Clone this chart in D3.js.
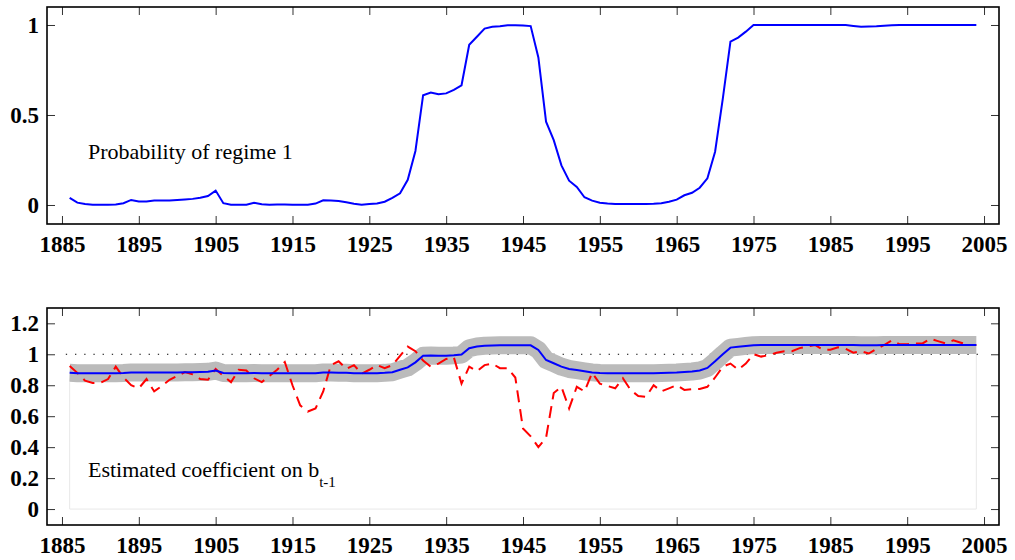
<!DOCTYPE html>
<html>
<head>
<meta charset="utf-8">
<script src="https://cdn.jsdelivr.net/npm/d3@7"></script>
<style>
  body { margin: 0; background: #fff; }
  svg { display: block; }
  .tick text { font-family: "Liberation Serif", "Times New Roman", serif; font-weight: bold; font-size: 23px; fill: #000; }
  .tick line { stroke: #333; stroke-width: 1; }
  .note { font-family: "Liberation Serif", "Times New Roman", serif; font-size: 22px; fill: #000; }
</style>
</head>
<body>
<div id="chart"></div>
<script>

// years of the sample
var years = d3.range(1886, 2005);

// top panel: smoothed probability of regime 1
var probRegime1 = [
  0.04, 0.013, 0.005, 0.002, 0.001, 0.001, 0.003, 0.01, 0.028, 0.02,
  0.02, 0.025, 0.025, 0.025, 0.028, 0.031, 0.034, 0.04, 0.05, 0.08,
  0.01, 0.001, 0.001, 0.001, 0.012, 0.004, 0.001, 0.003, 0.003, 0.001,
  0.001, 0.001, 0.008, 0.026, 0.025, 0.022, 0.015, 0.007, 0.002, 0.005,
  0.008, 0.018, 0.04, 0.065, 0.14, 0.3, 0.61, 0.625, 0.615, 0.62,
  0.64, 0.665, 0.89, 0.935, 0.98, 0.99, 0.993, 0.998, 0.998, 0.997,
  0.994, 0.82, 0.463, 0.36, 0.22, 0.135, 0.1, 0.043, 0.024, 0.013,
  0.008, 0.006, 0.005, 0.005, 0.005, 0.005, 0.007, 0.01, 0.018, 0.03,
  0.054, 0.068, 0.096, 0.148, 0.296, 0.59, 0.907, 0.93, 0.963, 1.0,
  1, 1, 1, 1, 1, 1, 1, 1, 1, 1, 1, 1,
  0.995, 0.99, 0.992, 0.993, 0.996, 0.998,
  1, 1, 1, 1, 1, 1, 1, 1, 1, 1, 1
];

// bottom panel: regime-switching coefficient (blue, with grey band)
var coefSwitch = [
  0.88, 0.878, 0.877, 0.877, 0.877, 0.877, 0.878, 0.879, 0.883, 0.882,
  0.882, 0.883, 0.883, 0.883, 0.883, 0.884, 0.884, 0.885, 0.887, 0.895,
  0.879, 0.877, 0.877, 0.877, 0.879, 0.878, 0.877, 0.877, 0.877, 0.877,
  0.877, 0.877, 0.878, 0.882, 0.882, 0.881, 0.88, 0.878, 0.877, 0.878,
  0.878, 0.88, 0.884, 0.9, 0.915, 0.948, 0.99, 0.992, 0.99, 0.99,
  0.993, 0.998, 1.039, 1.05, 1.055, 1.057, 1.058, 1.059, 1.059, 1.059,
  1.058, 1.028, 0.963, 0.942, 0.92, 0.905, 0.898, 0.89, 0.883, 0.879,
  0.878, 0.878, 0.878, 0.878, 0.878, 0.878, 0.878, 0.879, 0.88, 0.882,
  0.886, 0.889, 0.895, 0.912, 0.955, 1.0, 1.043, 1.048, 1.054, 1.059,
  1.06, 1.06, 1.06, 1.06, 1.06, 1.06, 1.06, 1.06, 1.06, 1.06, 1.06, 1.06,
  1.06, 1.059, 1.059, 1.059, 1.06, 1.06,
  1.06, 1.06, 1.06, 1.06, 1.06, 1.06, 1.06, 1.06, 1.06, 1.06, 1.06
];

// bottom panel: rolling estimate (red dashed)
var coefRolling = [
  0.925, 0.88, 0.83, 0.815, 0.815, 0.84, 0.92, 0.85, 0.8, 0.78,
  0.84, 0.76, 0.795, 0.835, 0.86, 0.885, 0.87, 0.84, 0.835, 0.905,
  0.86, 0.82, 0.9, 0.895, 0.845, 0.82, 0.86, 0.9, 0.95, 0.8,
  0.67, 0.63, 0.65, 0.76, 0.93, 0.955, 0.905, 0.93, 0.875, 0.9,
  0.93, 0.91, 0.93, 0.99, 1.05, 1.02, 0.96, 0.92, 0.94, 0.97,
  0.98, 0.81, 0.92, 0.89, 0.93, 0.94, 0.91, 0.91, 0.85, 0.52,
  0.47, 0.4, 0.46, 0.75, 0.79, 0.65, 0.79, 0.76, 0.88, 0.81,
  0.795, 0.78, 0.845, 0.77, 0.73, 0.725, 0.8, 0.76, 0.78, 0.8,
  0.77, 0.775, 0.776, 0.79, 0.85, 0.92, 0.94, 0.9, 0.94, 1.0,
  0.985, 0.995, 1.01, 1.02, 1.02, 1.04, 1.05, 1.06, 1.03, 1.03,
  1.045, 1.035, 1.01, 1.02, 1.005, 1.035, 1.06, 1.09, 1.065, 1.065,
  1.07, 1.07, 1.1, 1.085, 1.07, 1.09, 1.075, 1.06, 1.06
];

var xTicks = [1885, 1895, 1905, 1915, 1925, 1935, 1945, 1955, 1965, 1975, 1985, 1995, 2005];
var yTicksTop = [0, 0.5, 1];
var yTicksBottom = [0, 0.2, 0.4, 0.6, 0.8, 1, 1.2];

var width = 1015, height = 560;
var left = 47, right = 999;

var svg = d3.select("#chart").append("svg")
  .attr("width", width)
  .attr("height", height);

var x = d3.scaleLinear().domain([1883.05, 2006.95]).range([left, right]);

// draws frame, inward ticks on all sides, labels on left and bottom
function panel(top, bottom, yDomain, yTicks) {
  var y = d3.scaleLinear().domain(yDomain).range([bottom, top]);
  var g = svg.append("g");
  var fmt = d3.format("");

  g.append("g")
    .attr("transform", "translate(0," + bottom + ")")
    .call(d3.axisBottom(x).tickValues(xTicks).tickSizeInner(-8).tickSizeOuter(0).tickPadding(12).tickFormat(d3.format("d")));
  g.append("g")
    .attr("transform", "translate(0," + top + ")")
    .call(d3.axisTop(x).tickValues(xTicks).tickSizeInner(-8).tickSizeOuter(0).tickFormat(""));
  g.append("g")
    .attr("transform", "translate(" + left + ",0)")
    .call(d3.axisLeft(y).tickValues(yTicks).tickSizeInner(-8).tickSizeOuter(0).tickPadding(8).tickFormat(fmt));
  g.append("g")
    .attr("transform", "translate(" + right + ",0)")
    .call(d3.axisRight(y).tickValues(yTicks).tickSizeInner(-8).tickSizeOuter(0).tickFormat(""));
  g.selectAll(".domain").remove();

  g.append("rect")
    .attr("x", left).attr("y", top)
    .attr("width", right - left).attr("height", bottom - top)
    .attr("fill", "none").attr("stroke", "#000").attr("stroke-width", 1.6);

  return { g: g, y: y };
}

// ---- top panel
var p1 = panel(7, 224, [-0.1056, 1.1], yTicksTop);

var line1 = d3.line().x((d, i) => x(years[i])).y(d => p1.y(d));

p1.g.append("path")
  .datum(probRegime1)
  .attr("d", line1)
  .attr("fill", "none")
  .attr("stroke", "#0000ff")
  .attr("stroke-width", 2);

p1.g.append("text")
  .attr("class", "note")
  .attr("x", 88).attr("y", 159)
  .text("Probability of regime 1");

// ---- bottom panel
var p2 = panel(308, 525, [-0.103, 1.299], yTicksBottom);

var line2 = d3.line().x((d, i) => x(years[i])).y(d => p2.y(d));

// faint outline of the estimation window
p2.g.append("path")
  .attr("d", "M" + x(1886) + "," + p2.y(0.82) + "V" + p2.y(0) + "H" + x(2004) + "V" + p2.y(1.0))
  .attr("fill", "none")
  .attr("stroke", "#e8e8e8")
  .attr("stroke-width", 1);

// dotted unit line
p2.g.append("line")
  .attr("x1", x(1885.5)).attr("x2", x(2004.5))
  .attr("y1", p2.y(1)).attr("y2", p2.y(1))
  .attr("stroke", "#000")
  .attr("stroke-width", 1)
  .attr("stroke-dasharray", "1.3,7.9");

// grey confidence band around the switching coefficient
p2.g.append("path")
  .datum(coefSwitch)
  .attr("d", line2)
  .attr("fill", "none")
  .attr("stroke", "#bbbbbb")
  .attr("stroke-width", 18)
  .attr("stroke-linejoin", "round");

p2.g.append("path")
  .datum(coefRolling)
  .attr("d", line2)
  .attr("fill", "none")
  .attr("stroke", "#ff0000")
  .attr("stroke-width", 2)
  .attr("stroke-dasharray", "12,7");

p2.g.append("path")
  .datum(coefSwitch)
  .attr("d", line2)
  .attr("fill", "none")
  .attr("stroke", "#0000ff")
  .attr("stroke-width", 2);

var t = p2.g.append("text")
  .attr("class", "note")
  .attr("x", 88).attr("y", 477);
t.append("tspan").text("Estimated coefficient on b");
t.append("tspan").attr("dy", 10).style("font-size", "15px").text("t-1");

</script>
</body>
</html>
